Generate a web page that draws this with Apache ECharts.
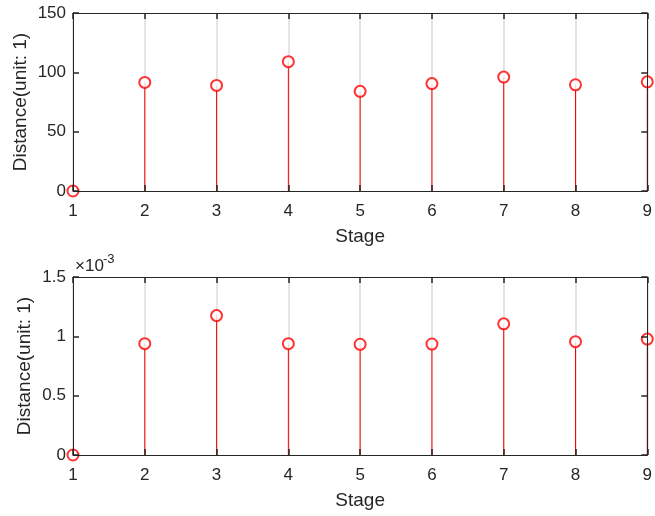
<!DOCTYPE html>
<html>
<head>
<meta charset="utf-8">
<script src="https://cdn.jsdelivr.net/npm/echarts@6/dist/echarts.min.js"></script>
<style>
  html, body { margin: 0; padding: 0; background: #ffffff; }
  #chart { width: 655px; height: 516px; }
</style>
</head>
<body>
<div id="chart"></div>
<script>
// Stage index shared by both panels
const stages = [1, 2, 3, 4, 5, 6, 7, 8, 9];
// Upper panel: distance per stage
const distanceUpper = [0, 91.5, 89, 109, 84, 90.5, 96, 89.5, 92];
// Lower panel: distance per stage (axis shown in units of 1e-3)
const distanceLower = [0, 0.000938, 0.001175, 0.000938, 0.000933, 0.000935, 0.001105, 0.000955, 0.000977];
// Tick label values
const upperTicks = [0, 50, 100, 150];
const lowerTicks = [0, 0.0005, 0.001, 0.0015];

const INK = '#262626';
const RED = '#ff0000';
const FONT = '"Liberation Sans", Arial, Helvetica, sans-serif';

function pairs(xs, ys) { return xs.map((x, i) => [x, ys[i]]); }

function stemRender(params, api) {
  const p0 = api.coord([api.value(0), 0]);
  const p1 = api.coord([api.value(0), api.value(1)]);
  return {
    type: 'line',
    shape: { x1: p0[0], y1: p0[1], x2: p1[0], y2: p1[1] },
    style: { stroke: RED, lineWidth: 1 }
  };
}

function xAxes(gridIndex) {
  const common = {
    type: 'value', gridIndex, min: stages[0], max: stages[stages.length - 1], interval: 1,
    axisLine: { show: true, onZero: false, lineStyle: { color: INK, width: 1 } },
    axisTick: { show: true, inside: true, length: 6, lineStyle: { color: INK, width: 1.5 } }
  };
  return [
    Object.assign({}, common, {
      position: 'bottom', z: 5,
      splitLine: { show: false },
      axisLabel: { color: INK, fontSize: 17, fontFamily: FONT, margin: 12 },
      name: 'Stage', nameLocation: 'middle', nameGap: 36, nameMoveOverlap: false,
      nameTextStyle: { color: INK, fontSize: 19, fontFamily: FONT }
    }),
    Object.assign({}, common, {
      position: 'top', z: 0,
      axisLabel: { show: false },
      splitLine: { show: true, lineStyle: { color: '#dcdcdc', width: 1.5 } }
    })
  ];
}

function yAxes(gridIndex, ticks, formatter, nameGap) {
  const common = {
    type: 'value', gridIndex, min: ticks[0], max: ticks[ticks.length - 1],
    interval: ticks[1] - ticks[0],
    splitLine: { show: false },
    axisLine: { show: true, onZero: false, lineStyle: { color: INK, width: 1 } },
    axisTick: { show: true, inside: true, length: 6, lineStyle: { color: INK, width: 1.5 } }
  };
  return [
    Object.assign({}, common, {
      position: 'left', z: 5,
      axisLabel: { color: INK, fontSize: 17, fontFamily: FONT, margin: 7, formatter },
      name: 'Distance(unit: 1)', nameLocation: 'middle', nameGap, nameMoveOverlap: false,
      nameTextStyle: { color: INK, fontSize: 19, fontFamily: FONT }
    }),
    Object.assign({}, common, {
      position: 'right', z: 5,
      axisLabel: { show: false }
    })
  ];
}

function panelSeries(axisIndex, values) {
  const data = pairs(stages, values);
  return [
    {
      type: 'custom', xAxisIndex: axisIndex, yAxisIndex: axisIndex,
      renderItem: stemRender, data, z: 2, clip: false
    },
    {
      type: 'scatter', xAxisIndex: axisIndex, yAxisIndex: axisIndex,
      data, symbol: 'emptyCircle', symbolSize: 11, z: 3, clip: false,
      itemStyle: { color: RED, borderColor: RED, borderWidth: 1.1 }
    }
  ];
}

const chart = echarts.init(document.getElementById('chart'), null, { renderer: 'canvas' });
chart.setOption({
  animation: false,
  backgroundColor: '#ffffff',
  grid: [
    { left: 73, right: 4, top: 13, height: 178 },
    { left: 73, right: 4, top: 277, height: 178 }
  ],
  xAxis: xAxes(0).concat(xAxes(1)),
  yAxis: yAxes(0, upperTicks, v => String(v), 43)
    .concat(yAxes(1, lowerTicks, v => String(Math.round(v * 10000) / 10), 39)),
  series: panelSeries(0, distanceUpper).concat(panelSeries(2, distanceLower)),
  // exponent note above the lower panel's value axis
  graphic: [
    {
      type: 'text', left: 75, top: 258,
      style: { text: '×10', fill: INK, font: '17px "Liberation Sans", Arial, sans-serif' }
    },
    {
      type: 'text', left: 103, top: 253,
      style: { text: '-3', fill: INK, font: '13px "Liberation Sans", Arial, sans-serif' }
    }
  ]
});
</script>
</body>
</html>
